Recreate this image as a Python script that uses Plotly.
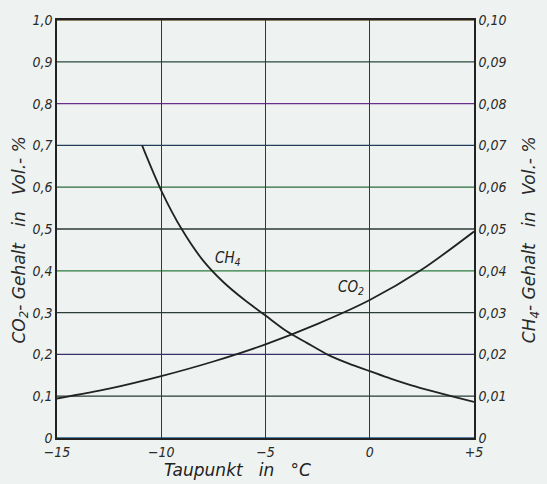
import plotly.graph_objects as go

# Data
co2_x = [-15, -12.5, -10, -7.5, -5, -2.5, 0, 2.5, 5]
co2_y = [0.0945, 0.118, 0.148, 0.183, 0.224, 0.273, 0.330, 0.403, 0.494]

ch4_x = [-10.92, -10, -9, -8, -7, -6, -5, -4, -3, -2, -1, 0, 1, 2, 3, 4, 5]
ch4_y = [0.070, 0.0592, 0.0498, 0.0425, 0.0372, 0.0330, 0.0293, 0.0256, 0.0227, 0.0199,
         0.0178, 0.0160, 0.0142, 0.0126, 0.0112, 0.0099, 0.00865]

x_ticks = [-15, -10, -5, 0, 5]
x_labels = ["−15", "−10", "−5", "0", "+5"]
y_ticks = [0, 0.1, 0.2, 0.3, 0.4, 0.5, 0.6, 0.7, 0.8, 0.9, 1.0]
y_labels = ["0", "0,1", "0,2", "0,3", "0,4", "0,5", "0,6", "0,7", "0,8", "0,9", "1,0"]
y2_ticks = [0, 0.01, 0.02, 0.03, 0.04, 0.05, 0.06, 0.07, 0.08, 0.09, 0.10]
y2_labels = ["0", "0,01", "0,02", "0,03", "0,04", "0,05", "0,06", "0,07", "0,08", "0,09", "0,10"]
grid_colors = ["#1f5a8a", "#263a34", "#3a2f6a", "#2b3b36", "#2a7a3c", "#2b3a36",
               "#2a6a3a", "#1f3f5a", "#6a2f8a", "#2a4a3a", "#6a5a30"]

font_fam = "DejaVu Sans Condensed, DejaVu Sans"
title_fam = "DejaVu Sans"
tick_font = dict(family=font_fam, size=14, color="#2a2a2a", style="italic")
sp = "\u00a0" * 3
title_font = dict(family=title_fam, size=17, color="#2a2a2a", style="italic")

fig = go.Figure()
fig.add_trace(go.Scatter(x=co2_x, y=co2_y, mode="lines",
                         line=dict(color="#222", width=1.8, shape="spline", smoothing=0.8),
                         showlegend=False))
fig.add_trace(go.Scatter(x=ch4_x, y=ch4_y, mode="lines", yaxis="y2",
                         line=dict(color="#222", width=1.8, shape="spline", smoothing=0.8),
                         showlegend=False))

shapes = []
for yv, c in zip(y_ticks, grid_colors):
    shapes.append(dict(type="line", xref="paper", x0=0, x1=1, yref="y", y0=yv, y1=yv,
                       line=dict(color=c, width=1.3), layer="below"))

fig.update_layout(
    width=547, height=484,
    margin=dict(l=57, r=73, t=18, b=46),
    paper_bgcolor="#eef3f1", plot_bgcolor="#eef3f1",
    shapes=shapes,
    xaxis=dict(range=[-15, 5], tickvals=x_ticks, ticktext=x_labels, tickfont=tick_font,
               showgrid=True, gridcolor="#2b3a36", gridwidth=1, zeroline=False,
               showline=True, linecolor="#222", linewidth=1.5, mirror=True, ticks=""),
    yaxis=dict(range=[0, 1.0], tickvals=y_ticks, ticktext=y_labels, tickfont=tick_font,
               showgrid=False, zeroline=False, showline=True, linecolor="#222", linewidth=1.5,
               ticks=""),
    yaxis2=dict(range=[0, 0.1], tickvals=y2_ticks, ticktext=y2_labels, tickfont=tick_font,
                overlaying="y", side="right", showgrid=False, zeroline=False, showline=True,
                linecolor="#222", linewidth=1.5, ticks=""),
    annotations=[
        dict(x=-6.8, y=0.43, xref="x", yref="y", text="CH<sub>4</sub>", showarrow=False,
             font=dict(family=font_fam, size=15, color="#222", style="italic")),
        dict(x=-0.9, y=0.36, xref="x", yref="y", text="CO<sub>2</sub>", showarrow=False,
             font=dict(family=font_fam, size=15, color="#222", style="italic")),
        dict(x=0.432, y=-0.076, xref="paper", yref="paper", xanchor="center", yanchor="middle",
             text="Taupunkt" + sp + "in" + sp + "°C", showarrow=False,
             font=dict(family=title_fam, size=17, color="#222", style="italic")),
        dict(x=-0.087, y=0.474, xref="paper", yref="paper", xanchor="center", yanchor="middle",
             textangle=-90, text="CO<sub>2</sub>- Gehalt" + sp + "in" + sp + "Vol.- %",
             showarrow=False, font=title_font),
        dict(x=1.1375, y=0.474, xref="paper", yref="paper", xanchor="center", yanchor="middle",
             textangle=-90, text="CH<sub>4</sub>- Gehalt" + sp + "in" + sp + "Vol.- %",
             showarrow=False, font=title_font),
    ],
)

fig.write_html("out.html")
